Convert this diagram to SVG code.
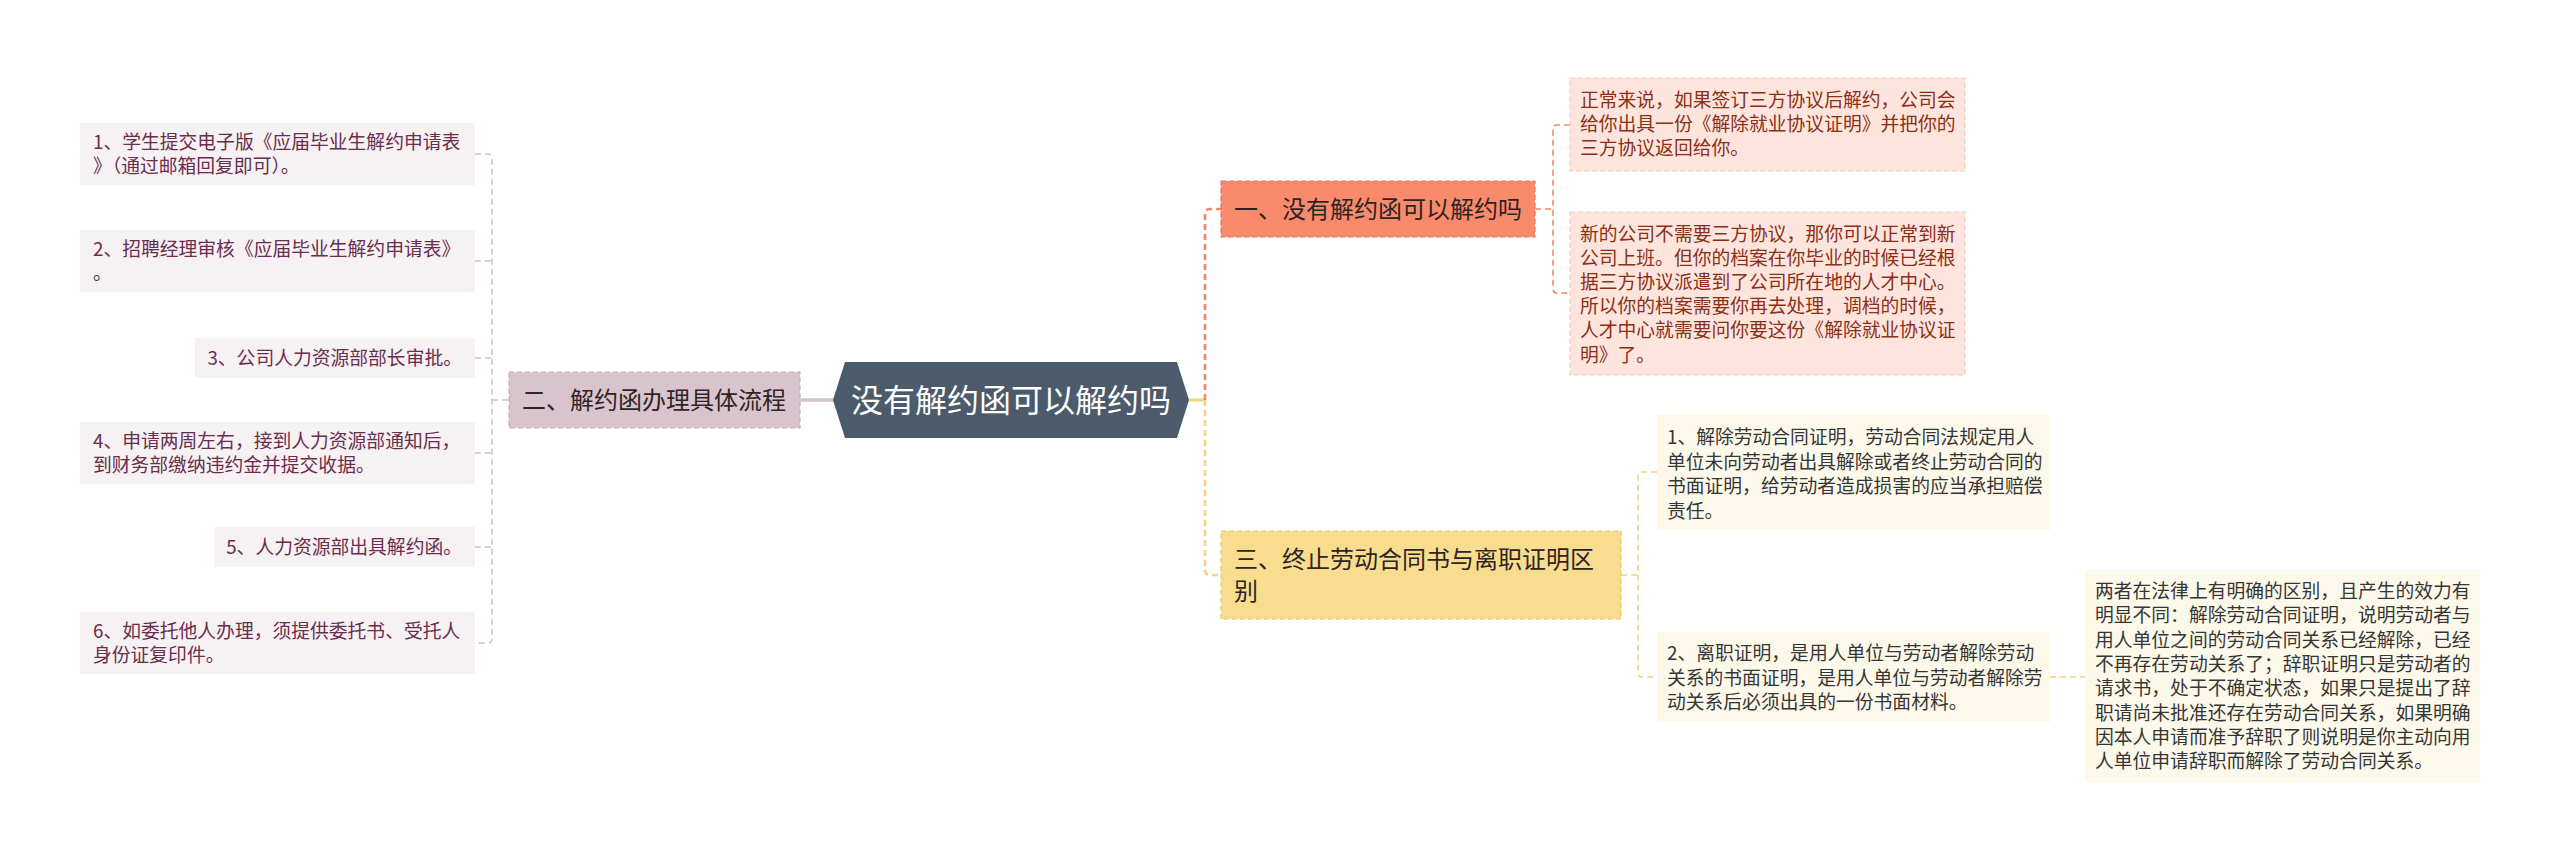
<svg xmlns="http://www.w3.org/2000/svg" width="2560" height="863" viewBox="0 0 2560 863">
<style>
text{font-family:"Noto Sans CJK SC","Noto Sans",sans-serif}
.s{font-size:18.8px}
.b{font-size:24px;fill:#2e2424}
.lt{fill:#6a2d4c}
.lb{fill:#f6f1f3}
.pt{fill:#8c2f14}
.pb{fill:#fde5de;stroke:#f6c9bc;stroke-width:1.2;stroke-dasharray:5 3}
.yt{fill:#353535}
.yb{fill:#fdf9ea}
.cg{fill:none;stroke:#cbc2c6;stroke-width:1.5;stroke-dasharray:6 4}
.cs{fill:none;stroke:#f2886a;stroke-width:1.6;stroke-dasharray:6 4}
.cy{fill:none;stroke:#f0d47e;stroke-width:1.6;stroke-dasharray:6 4}
</style>
<rect width="2560" height="863" fill="#ffffff"/>
<g id="connectors">
<path class="cg" d="M475,154 H488 Q492,154 492,158 V639 Q492,643 488,643 H475"/>
<path class="cg" d="M475,261 H492 M475,358 H492 M475,453 H492 M475,547 H492 M492,400 H509"/>
<path d="M800,400 H834" stroke="#d7c2cc" stroke-width="3.5" fill="none"/>
<path d="M1188,400 H1205" stroke="#f0d47e" stroke-width="3" fill="none"/>
<path d="M1205,400 V214 Q1205,209 1210,209 H1221" fill="none" stroke="#f2886a" stroke-width="2.6" stroke-dasharray="6 4"/>
<path d="M1205,400 V570 Q1205,575 1210,575 H1221" fill="none" stroke="#f0d47e" stroke-width="2.6" stroke-dasharray="6 4"/>
<path class="cs" d="M1535,209 H1553 M1570,125 H1557 Q1553,125 1553,129 V289 Q1553,293 1557,293 H1570"/>
<path class="cy" d="M1621,575 H1638 M1657,472 H1642 Q1638,472 1638,476 V673 Q1638,677 1642,677 H1657"/>
<path class="cy" d="M2050,677 H2085"/>
</g>
<g id="center">
<polygon points="833,400 845,362 1177,362 1189,400 1177,438 845,438" fill="#4b5b6b"/>
<text x="1011" y="412" font-size="32" fill="#ffffff" text-anchor="middle">没有解约函可以解约吗</text>
</g>
<g id="branch2">
<rect x="509" y="372" width="291" height="56" fill="#d9c4ce" stroke="#c4abb8" stroke-width="1.2" stroke-dasharray="5 3"/>
<text class="b" x="522" y="408.6">二、解约函办理具体流程</text>
</g>
<g id="item1">
<rect class="lb" x="80" y="123" width="395" height="62"/>
<text class="s lt" x="93" y="148.5">1、学生提交电子版《应届毕业生解约申请表</text>
<text class="s lt" x="93" y="173">》（通过邮箱回复即可）。</text>
</g>
<g id="item2">
<rect class="lb" x="80" y="230" width="395" height="62"/>
<text class="s lt" x="93" y="255.5">2、招聘经理审核《应届毕业生解约申请表》</text>
<text class="s lt" x="93" y="280">。</text>
</g>
<g id="item3">
<rect class="lb" x="195" y="338" width="280" height="40"/>
<text class="s lt" x="462" y="365" text-anchor="end">3、公司人力资源部部长审批。</text>
</g>
<g id="item4">
<rect class="lb" x="80" y="422" width="395" height="62"/>
<text class="s lt" x="93" y="447.5">4、申请两周左右，接到人力资源部通知后，</text>
<text class="s lt" x="93" y="472">到财务部缴纳违约金并提交收据。</text>
</g>
<g id="item5">
<rect class="lb" x="214" y="527" width="261" height="40"/>
<text class="s lt" x="462" y="554" text-anchor="end">5、人力资源部出具解约函。</text>
</g>
<g id="item6">
<rect class="lb" x="80" y="612" width="395" height="62"/>
<text class="s lt" x="93" y="637.5">6、如委托他人办理，须提供委托书、受托人</text>
<text class="s lt" x="93" y="662">身份证复印件。</text>
</g>
<g id="branch1">
<rect x="1221" y="181" width="314" height="56" fill="#fa8a6c" stroke="#e8775a" stroke-width="1.2" stroke-dasharray="5 3"/>
<text class="b" x="1234" y="217.6">一、没有解约函可以解约吗</text>
</g>
<g id="child1a">
<rect class="pb" x="1570" y="78" width="395" height="93"/>
<text class="s pt" x="1580" y="107.3">正常来说，如果签订三方协议后解约，公司会</text>
<text class="s pt" x="1580" y="131.3">给你出具一份《解除就业协议证明》并把你的</text>
<text class="s pt" x="1580" y="155.3">三方协议返回给你。</text>
</g>
<g id="child1b">
<rect class="pb" x="1570" y="212" width="395" height="163"/>
<text class="s pt" x="1580" y="240.5">新的公司不需要三方协议，那你可以正常到新</text>
<text class="s pt" x="1580" y="264.7">公司上班。但你的档案在你毕业的时候已经根</text>
<text class="s pt" x="1580" y="288.9">据三方协议派遣到了公司所在地的人才中心。</text>
<text class="s pt" x="1580" y="313.1">所以你的档案需要你再去处理，调档的时候，</text>
<text class="s pt" x="1580" y="337.3">人才中心就需要问你要这份《解除就业协议证</text>
<text class="s pt" x="1580" y="361.5">明》了。</text>
</g>
<g id="branch3">
<rect x="1221" y="531" width="400" height="88" fill="#f8dd8e" stroke="#e6c56a" stroke-width="1.2" stroke-dasharray="5 3"/>
<text class="b" x="1234" y="567.6">三、终止劳动合同书与离职证明区</text>
<text class="b" x="1234" y="599.6">别</text>
</g>
<g id="child3a">
<rect class="yb" x="1657" y="415" width="393" height="115"/>
<text class="s yt" x="1667" y="444">1、解除劳动合同证明，劳动合同法规定用人</text>
<text class="s yt" x="1667" y="468.5">单位未向劳动者出具解除或者终止劳动合同的</text>
<text class="s yt" x="1667" y="493">书面证明，给劳动者造成损害的应当承担赔偿</text>
<text class="s yt" x="1667" y="517.5">责任。</text>
</g>
<g id="child3b">
<rect class="yb" x="1657" y="632" width="393" height="90"/>
<text class="s yt" x="1667" y="660">2、离职证明，是用人单位与劳动者解除劳动</text>
<text class="s yt" x="1667" y="684.5">关系的书面证明，是用人单位与劳动者解除劳</text>
<text class="s yt" x="1667" y="709">动关系后必须出具的一份书面材料。</text>
</g>
<g id="grandchild">
<rect class="yb" x="2085" y="570" width="395" height="212"/>
<text class="s yt" x="2095" y="598">两者在法律上有明确的区别，且产生的效力有</text>
<text class="s yt" x="2095" y="622.3">明显不同：解除劳动合同证明，说明劳动者与</text>
<text class="s yt" x="2095" y="646.6">用人单位之间的劳动合同关系已经解除，已经</text>
<text class="s yt" x="2095" y="670.9">不再存在劳动关系了；辞职证明只是劳动者的</text>
<text class="s yt" x="2095" y="695.2">请求书，处于不确定状态，如果只是提出了辞</text>
<text class="s yt" x="2095" y="719.5">职请尚未批准还存在劳动合同关系，如果明确</text>
<text class="s yt" x="2095" y="743.8">因本人申请而准予辞职了则说明是你主动向用</text>
<text class="s yt" x="2095" y="768.1">人单位申请辞职而解除了劳动合同关系。</text>
</g>
</svg>
